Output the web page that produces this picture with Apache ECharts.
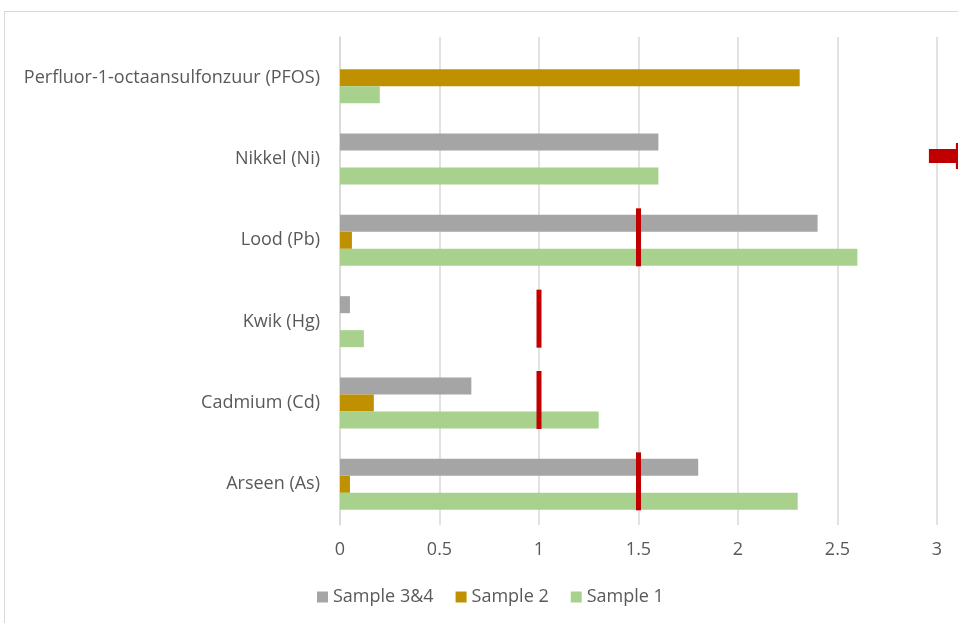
<!DOCTYPE html>
<html>
<head>
<meta charset="utf-8">
<script src="https://cdn.jsdelivr.net/npm/echarts@6/dist/echarts.min.js"></script>
<style>
  html, body { margin: 0; padding: 0; background: #fff; overflow: hidden; }
  #chart {
    position: absolute;
    left: 4px;
    top: 11px;
    width: 953px;
    height: 611px;
    border-left: 1px solid #d9d9d9;
    border-top: 1px solid #d9d9d9;
  }
</style>
</head>
<body>
<div id="chart"></div>
<script>
// categories, bottom to top (as on the y axis)
const categories = ['Arseen (As)', 'Cadmium (Cd)', 'Kwik (Hg)', 'Lood (Pb)', 'Nikkel (Ni)', 'Perfluor-1-octaansulfonzuur (PFOS)'];
const sample1 = [2.3, 1.3, 0.12, 2.6, 1.6, 0.2];
const sample2 = [0.05, 0.17, null, 0.06, null, 2.31];
const sample34 = [1.8, 0.66, 0.05, 2.4, 1.6, null];
// red limit markers per category (null = none)
const limits = [1.5, 1.0, 1.0, 1.5, 3.1, null];
const xTicks = [0, 3, 0.5];  // min, max, interval

const chart = echarts.init(document.getElementById('chart'));

const limitData = [];
limits.forEach((v, i) => {
  if (v !== null) limitData.push([v, i]);
});

const textColor = '#595959';
const fontFamily = '"Open Sans", "Noto Sans", sans-serif';
const fontSize = 18;

const option = {
  animation: false,
  grid: {
    left: 335,
    right: 21,
    top: 25,
    bottom: 98
  },
  legend: {
    data: ['Sample 3&4', 'Sample 2', 'Sample 1'],
    bottom: 12,
    left: 307,
    itemWidth: 11,
    itemHeight: 11,
    itemGap: 22,
    icon: 'rect',
    textStyle: { color: textColor, fontSize: fontSize, fontFamily: fontFamily }
  },
  xAxis: {
    type: 'value',
    min: xTicks[0],
    max: xTicks[1],
    interval: xTicks[2],
    axisLine: { show: false },
    axisTick: { show: false },
    axisLabel: { color: textColor, fontSize: fontSize, fontFamily: fontFamily, margin: 16 },
    splitLine: { lineStyle: { color: '#d9d9d9', width: 1.5 } }
  },
  yAxis: {
    type: 'category',
    data: categories,
    axisLine: { lineStyle: { color: '#d9d9d9', width: 1.5 } },
    axisTick: { show: false },
    axisLabel: { color: textColor, fontSize: fontSize, fontFamily: fontFamily, margin: 20 }
  },
  series: [
    {
      name: 'Sample 3&4',
      type: 'bar',
      data: sample34,
      barWidth: 17,
      barGap: '0%',
      itemStyle: { color: '#a5a5a5' }
    },
    {
      name: 'Sample 2',
      type: 'bar',
      data: sample2,
      barWidth: 17,
      barGap: '0%',
      itemStyle: { color: '#bf9000' }
    },
    {
      name: 'Sample 1',
      type: 'bar',
      data: sample1,
      barWidth: 17,
      barGap: '0%',
      itemStyle: { color: '#a9d18e' }
    },
    {
      name: 'Limiet',
      type: 'custom',
      clip: false,
      z: 5,
      data: limitData,
      renderItem: function (params, api) {
        const v = api.value(0);
        const p = api.coord([v, api.value(1)]);
        const style = { fill: '#c00000' };
        if (v > xTicks[1]) {
          // beyond the axis: drawn as an arrow pointing off the chart
          return {
            type: 'group',
            children: [
              { type: 'rect', shape: { x: p[0] - 28, y: p[1] - 10, width: 28, height: 14 }, style: style },
              { type: 'rect', shape: { x: p[0] - 1, y: p[1] - 16, width: 5, height: 26 }, style: style }
            ]
          };
        }
        return {
          type: 'rect',
          shape: { x: p[0] - 2.5, y: p[1] - 32, width: 5, height: 58 },
          style: style
        };
      }
    }
  ]
};

chart.setOption(option);
</script>
</body>
</html>
